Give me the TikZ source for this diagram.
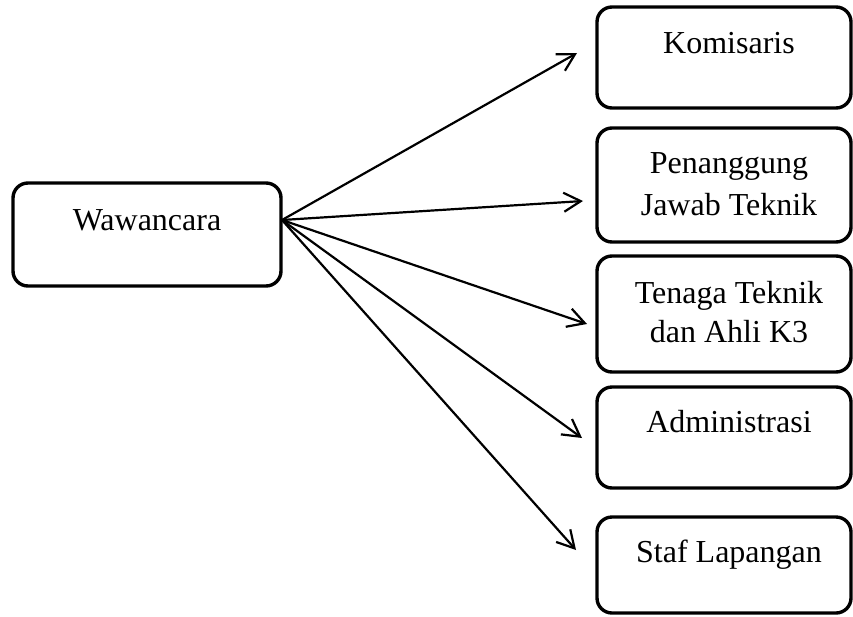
\documentclass[tikz,border=0pt]{standalone}
\usepackage{fontspec}
\setmainfont{Liberation Serif}
\usetikzlibrary{arrows.meta}
\begin{document}
\begin{tikzpicture}[x=1pt,y=-1pt,
  box/.style={draw, line width=3.4pt, rounded corners=15pt, inner sep=0pt},
  lbl/.style={inner sep=0pt, font=\fontsize{32}{42}\selectfont, align=center, anchor=base},
  conn/.style={line width=2.2pt, -{Straight Barb[length=17pt,width=19pt,line width=2.2pt]}}]
\useasboundingbox (0,0) rectangle (853,616);
% boxes
\node[box, minimum width=268pt, minimum height=103pt] (w) at (147,234.5) {};
\node[box, minimum width=254pt, minimum height=101pt] (k) at (724,57.5) {};
\node[box, minimum width=254pt, minimum height=114pt] (p) at (724,185) {};
\node[box, minimum width=254pt, minimum height=116pt] (t) at (724,314) {};
\node[box, minimum width=254pt, minimum height=101pt] (a) at (724,437.5) {};
\node[box, minimum width=254pt, minimum height=96pt] (s) at (724,565) {};
% labels
\node[lbl] (wl) at (147,230) {Wawancara};
\node[lbl] (kl) at (729,53) {Komisaris};
\node[lbl] (pl1) at (729,173) {Penanggung};
\node[lbl] (pl2) at (729,215) {Jawab Teknik};
\node[lbl] (tl1) at (729,303) {Tenaga Teknik};
\node[lbl] (tl2) at (729,342) {dan Ahli K3};
\node[lbl] (al) at (729,432) {Administrasi};
\node[lbl] (sl) at (729,562) {Staf Lapangan};
% connectors
\coordinate (src) at (282,220);
\coordinate (tk) at (577,53);
\coordinate (tp) at (583,201);
\coordinate (tt) at (587,324);
\coordinate (ta) at (582,438);
\coordinate (ts) at (576,550);
\foreach \e in {tk,tp,tt,ta,ts} \draw[conn] (src) -- (\e);
\end{tikzpicture}
\end{document}
